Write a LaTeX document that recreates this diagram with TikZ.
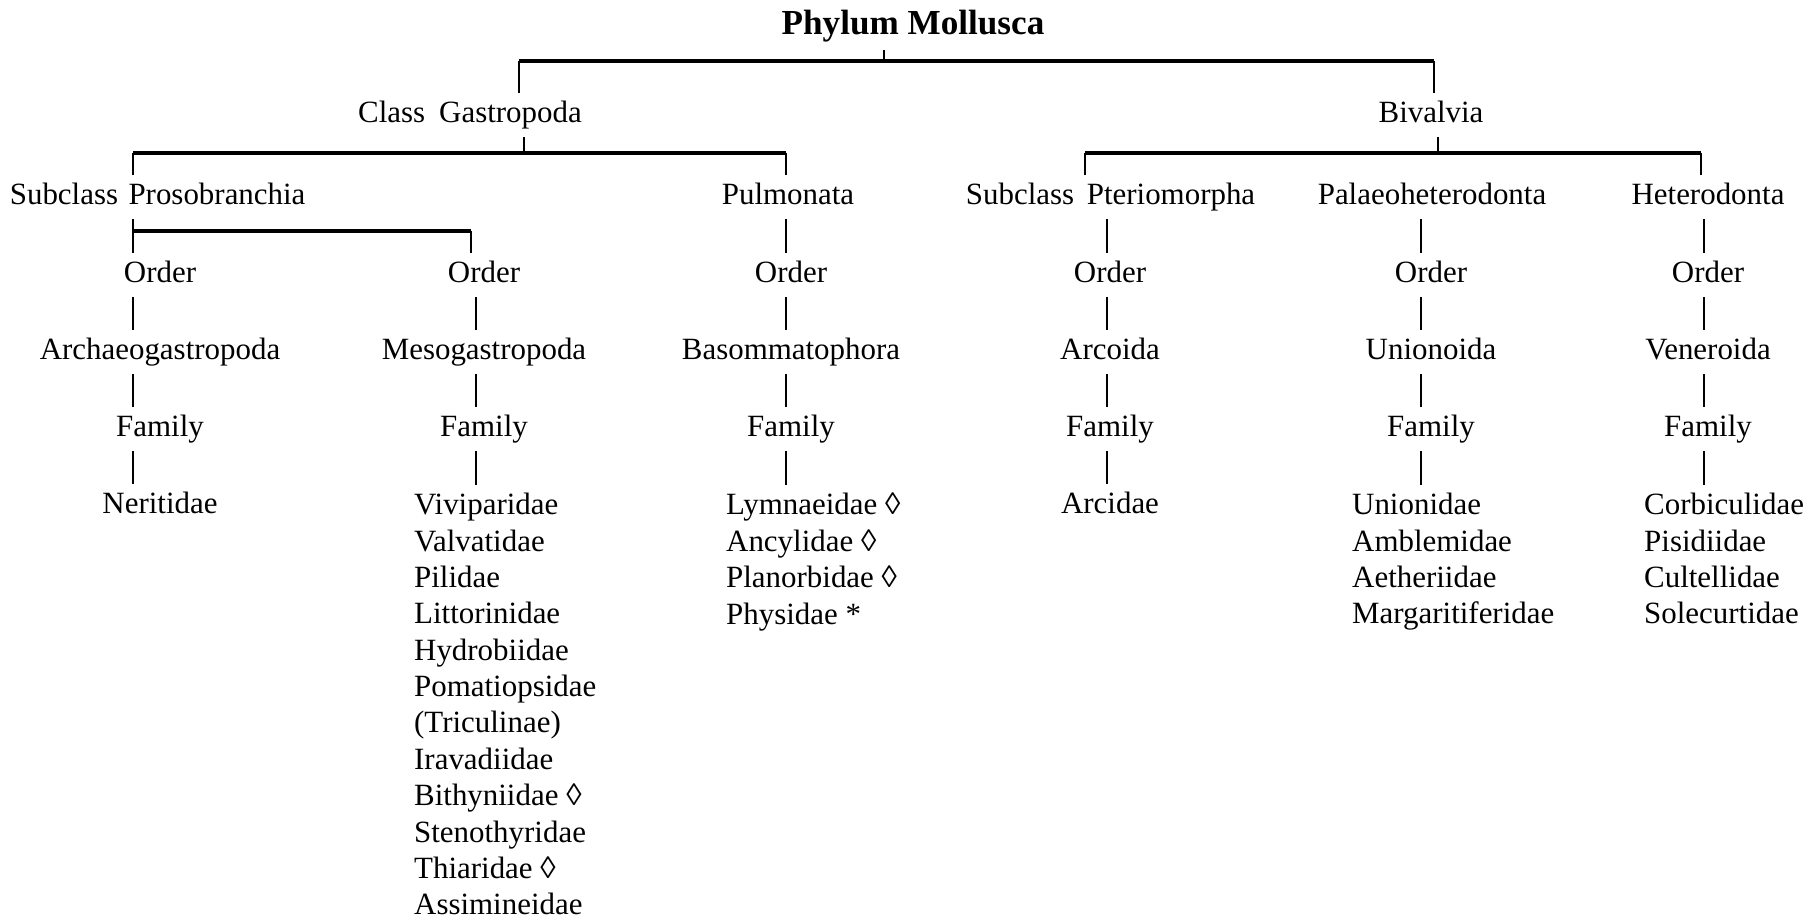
\documentclass[tikz,border=0pt]{standalone}
\usepackage{fontspec}
\setmainfont{Liberation Serif}

\begin{document}
\begin{tikzpicture}[auto,node distance=0.77cm,
                    line width=0.65pt,
                    taxon/.style={font=\fontsize{8.8}{10.35}\selectfont,inner sep=2pt,
                                  text height=6.2pt,text depth=1.9pt},
                    taxa list/.style={font=\fontsize{8.8}{10.35}\selectfont,inner sep=2pt,
                                      align=left,anchor=north west},
                    bar/.style={line width=0.9pt}]
  \useasboundingbox (0,0.03) rectangle (18.14,-9.16);

  \node[font=\bfseries\fontsize{10}{12}\selectfont,inner sep=2pt] (phy) at (9.13,-0.23) {Phylum Mollusca};
  \node[taxon] (gas) at (4.70,-1.12) {Class\hspace{0.45em}Gastropoda};
  \node[taxon] (biv) at (14.31,-1.12) {Bivalvia};

  \node[taxon] (sub1) at (0.64,-1.94) {Subclass};
  \node[taxon] (s1) at (2.17,-1.94) {Prosobranchia};
  \node[taxon] (s3) at (7.88,-1.94) {Pulmonata};
  \node[taxon] (sub2) at (10.20,-1.94) {Subclass};
  \node[taxon] (s4) at (11.71,-1.94) {Pteriomorpha};
  \node[taxon] (s5) at (14.32,-1.94) {Palaeoheterodonta};
  \node[taxon] (s6) at (17.08,-1.94) {Heterodonta};

  \foreach \c/\x in {1/1.60,2/4.84,3/7.91,4/11.10,5/14.31,6/17.08}
    \node[taxon] (o\c) at (\x,-2.72) {Order};
  \node[taxon] (g1) [below of=o1] {Archaeogastropoda};
  \node[taxon] (g2) [below of=o2] {Mesogastropoda};
  \node[taxon] (g3) [below of=o3] {Basommatophora};
  \node[taxon] (g4) [below of=o4] {Arcoida};
  \node[taxon] (g5) [below of=o5] {Unionoida};
  \node[taxon] (g6) [below of=o6] {Veneroida};
  \foreach \c in {1,...,6}
    \node[taxon] (f\c) [below of=g\c] {Family};

  \node[taxon] (l1) [below of=f1] {Neritidae};
  \node[taxa list] (l2) at (4.06,-4.82) {Viviparidae\\ Valvatidae\\ Pilidae\\ Littorinidae\\
    Hydrobiidae\\ Pomatiopsidae\\ (Triculinae)\\ Iravadiidae\\ Bithyniidae ◊\\
    Stenothyridae\\ Thiaridae ◊\\ Assimineidae};
  \node[taxa list] (l3) at (7.18,-4.82) {Lymnaeidae ◊\\ Ancylidae ◊\\ Planorbidae ◊\\ Physidae *};
  \node[taxon] (l4) [below of=f4] {Arcidae};
  \node[taxa list] (l5) at (13.44,-4.82) {Unionidae\\ Amblemidae\\ Aetheriidae\\ Margaritiferidae};
  \node[taxa list] (l6) at (16.36,-4.82) {Corbiculidae\\ Pisidiidae\\ Cultellidae\\ Solecurtidae};

  % bracket corners
  \coordinate (t0) at (8.84,-0.58);
  \coordinate (t1) at (5.19,-0.58);
  \coordinate (t2) at (14.34,-0.58);
  \coordinate (u0) at (5.24,-1.50);
  \coordinate (u1) at (1.33,-1.50);
  \coordinate (u2) at (7.86,-1.50);
  \coordinate (v0) at (14.38,-1.50);
  \coordinate (v1) at (10.85,-1.50);
  \coordinate (v2) at (17.01,-1.50);
  \coordinate (w1) at (1.33,-2.28);
  \coordinate (w2) at (4.71,-2.28);
  \foreach \c/\x in {1/1.33,2/4.76,3/7.86,4/11.07,5/14.21,6/17.04}
    \coordinate (c\c) at (\x,0);

  \draw (t0 |- phy.south) -- (t0);
  \draw[bar] (t1) -- (t2);
  \draw (t1) -- (t1 |- gas.north);
  \draw (t2) -- (t2 |- biv.north);

  \draw (u0 |- gas.south) -- (u0);
  \draw[bar] (u1) -- (u2);
  \draw (u1) -- (u1 |- s1.north);
  \draw (u2) -- (u2 |- s3.north);

  \draw (v0 |- biv.south) -- (v0);
  \draw[bar] (v1) -- (v2);
  \draw (v1) -- (v1 |- s4.north);
  \draw (v2) -- (v2 |- s6.north);

  \draw (w1 |- s1.south) -- (w1 |- o1.north);
  \draw[bar] (w1) -- (w2);
  \draw (w2) -- (w2 |- o2.north);

  \foreach \c in {3,...,6}
    \draw (c\c |- s\c.south) -- (c\c |- o\c.north);
  \foreach \c in {1,...,6}{
    \draw (c\c |- o\c.south) -- (c\c |- g\c.north);
    \draw (c\c |- g\c.south) -- (c\c |- f\c.north);
    \draw (c\c |- f\c.south) -- (c\c |- l\c.north);
  }
\end{tikzpicture}
\end{document}
